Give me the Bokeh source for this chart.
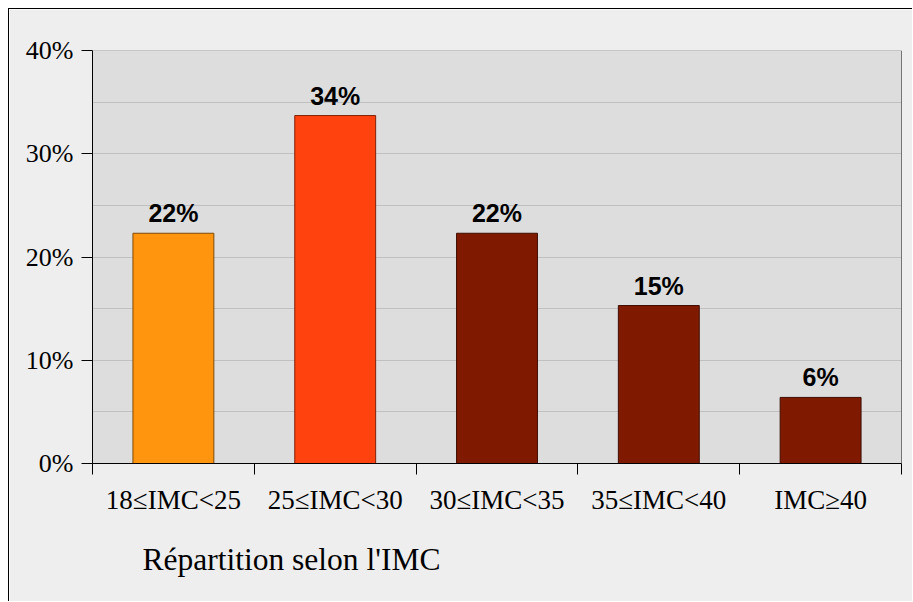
from bokeh.plotting import figure
from bokeh.models import (ColumnDataSource, Range1d, FixedTicker, PrintfTickFormatter,
                          Span, Title, LabelSet)
from bokeh.core.properties import value
from bokeh.embed import file_html
from bokeh.resources import INLINE

categories = ["18≤IMC<25", "25≤IMC<30", "30≤IMC<35", "35≤IMC<40", "IMC≥40"]
values = [22.3, 33.7, 22.3, 15.3, 6.4]
fill_colors = ["#ff950e", "#ff420e", "#7f1a00", "#7f1a00", "#7f1a00"]
line_colors = ["#7f4a07", "#7f2107", "#3f0d00", "#3f0d00", "#3f0d00"]
y_ticks = [0, 10, 20, 30, 40]
x_title = "Répartition selon l'IMC"

centers = [i + 0.5 for i in range(len(categories))]
labels = [f"{round(v)}%" for v in values]

src = ColumnDataSource(dict(x=centers, top=values, fill=fill_colors, line=line_colors,
                            label=labels))

p = figure(width=904, height=593, output_backend="svg", toolbar_location=None,
           x_range=Range1d(0, len(categories)), y_range=Range1d(0, 40),
           min_border_left=83, min_border_top=41, min_border_right=12, min_border_bottom=139)
p.styles = {"border-top": "1px solid black", "border-left": "1px solid black",
            "margin-left": "8px", "margin-top": "8px"}
p.background_fill_color = "#dddddd"
p.border_fill_color = "#eeeeee"
p.outline_line_color = None

p.vbar(x="x", top="top", width=0.5, bottom=0, source=src, fill_color="fill",
       line_color="line", line_width=1)
p.add_layout(LabelSet(x="x", y="top", text="label", source=src, text_align="center",
                      text_baseline="alphabetic", y_offset=11,
                      text_font=value("Liberation Sans"), text_font_style="bold",
                      text_font_size="25px", text_color="black"))

# grid
p.xgrid.visible = False
p.ygrid.ticker = FixedTicker(ticks=[0, 5, 10, 15, 20, 25, 30, 35, 40])
p.ygrid.grid_line_color = "#c0c0c0"
p.ygrid.grid_line_width = 1

p.add_layout(Span(location=40, dimension="width", line_color="#a0a0a0", line_width=1))
p.add_layout(Span(location=len(categories), dimension="height", line_color="black", line_width=1))

# y axis
ya = p.yaxis[0]
ya.ticker = FixedTicker(ticks=y_ticks)
ya.formatter = PrintfTickFormatter(format="%d%%")
ya.major_tick_out = 11
ya.major_tick_in = 0
ya.minor_tick_out = 0
ya.minor_tick_in = 0
ya.axis_line_color = "black"
ya.major_tick_line_color = "black"
ya.major_label_standoff = 8
ya.major_label_text_font = "Liberation Serif"
ya.major_label_text_font_size = "26px"
ya.major_label_text_color = "black"

# x axis
xa = p.xaxis[0]
xa.ticker = FixedTicker(ticks=centers, minor_ticks=list(range(len(categories) + 1)))
xa.major_label_overrides = {c: n for c, n in zip(centers, categories)}
xa.major_tick_out = 0
xa.major_tick_in = 0
xa.minor_tick_out = 11
xa.minor_tick_in = 0
xa.minor_tick_line_color = "black"
xa.axis_line_color = "black"
xa.major_label_standoff = 10
xa.major_label_text_font = "Liberation Serif"
xa.major_label_text_font_size = "27px"
xa.major_label_text_color = "black"

t = Title(text=x_title, align="left", offset=50, text_font="Liberation Serif",
          text_font_size="31.5px", text_font_style="normal", text_color="black",
          standoff=45)
p.add_layout(t, "below")

open("out.html", "w").write(file_html(p, INLINE))
